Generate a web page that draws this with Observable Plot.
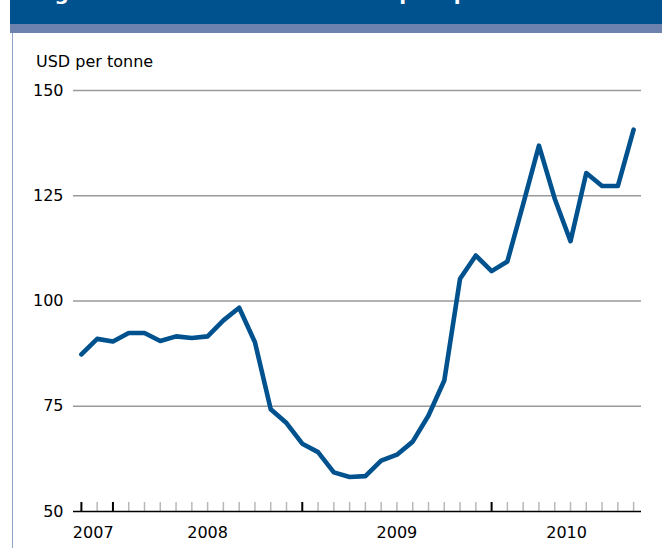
<!DOCTYPE html>
<html><head><meta charset="utf-8">
<script src="https://cdn.jsdelivr.net/npm/d3@7"></script>
<script src="https://cdn.jsdelivr.net/npm/@observablehq/plot@0.6"></script>
<style>
html,body{margin:0;padding:0;background:#fff;}
#wrap{position:relative;width:662px;height:548px;overflow:hidden;font-family:"DejaVu Sans",sans-serif;}
#chart{position:absolute;left:0;top:0;}
#head{position:absolute;left:10px;top:0;width:652px;height:24px;background:#00528e;overflow:hidden;}
#title{position:absolute;left:24px;top:-17px;font-size:20px;line-height:20px;font-weight:bold;color:#fff;white-space:nowrap;}
#strip{position:absolute;left:10px;top:24px;width:652px;height:9px;background:#6e82b0;}
#border{position:absolute;left:12px;top:33px;width:1px;height:515px;background:#8ea4c6;}
#unit{position:absolute;left:36px;top:53.5px;font-size:16px;line-height:16px;color:#000;}
</style></head><body>
<div id="wrap">
<div id="chart"></div>
<div id="head"><div id="title">Figure 2: International wheat export prices</div></div>
<div id="strip"></div>
<div id="border"></div>
<div id="unit">USD per tonne</div>
</div>
<script>
// Monthly series, November 2007 to October 2010
const firstMonth = [2007, 10]; // year, zero-based month (November)
const prices = [
  87.3, 91.0, 90.4, 92.4, 92.4, 90.5, 91.6, 91.2, 91.6, 95.4, 98.4, 90.2,
  74.3, 71.0, 66.1, 64.1, 59.3, 58.2, 58.4, 62.1, 63.5, 66.6, 72.8, 81.1,
  105.3, 110.8, 107.1, 109.4, 123.0, 136.9, 124.3, 114.2, 130.4, 127.3, 127.3, 140.7
];
const yTicks = [50, 75, 100, 125, 150];
const yearLabels = ["2007", "2008", "2009", "2010"];

const data = prices.map((v, i) => ({
  i,
  date: new Date(Date.UTC(firstMonth[0], firstMonth[1] + i, 1)),
  value: v
}));
const monthTicks = data.map(d => ({i: d.i, major: d.i === 0 || d.date.getUTCMonth() === 0}));
const yearSpans = yearLabels.map(y => {
  const rows = data.filter(d => d.date.getUTCFullYear() === +y);
  const a = rows[0], b = rows[rows.length - 1];
  const start = a.date.getUTCMonth() === 0 ? a.i : a.i - 0.5;
  const end = b.date.getUTCMonth() === 11 ? b.i + 1 : b.i + 0.5;
  return {label: y, x: (start + end) / 2};
});

const chart = Plot.plot({
  width: 662,
  height: 548,
  marginLeft: 73,
  marginRight: 21,
  marginTop: 90,
  marginBottom: 37,
  style: {fontFamily: "DejaVu Sans, sans-serif", fontSize: "16px", background: "transparent", color: "#000"},
  x: {domain: [-0.5, data.length - 0.5], axis: null, label: null},
  y: {domain: [50, 150], axis: null, label: null},
  marks: [
    Plot.ruleY(yTicks.filter(v => v > 50), {stroke: "#9a9a9a", strokeWidth: 1.3}),
    Plot.axisY(yTicks, {tickSize: 0, tickPadding: 10, fontSize: 16, fill: "#000", label: null}),
    Plot.ruleX(monthTicks.filter(t => !t.major), {x: "i", y1: 50, y2: 50, insetTop: -9, stroke: "#b8b8b8", strokeWidth: 1.5}),
    Plot.ruleX(monthTicks.filter(t => t.major), {x: "i", y1: 50, y2: 50, insetTop: -9, stroke: "#000", strokeWidth: 2}),
    Plot.ruleY([50], {stroke: "#000", strokeWidth: 1.7}),
    Plot.line(data, {x: "i", y: "value", stroke: "#00528e", strokeWidth: 4.6, strokeLinejoin: "round", strokeLinecap: "round"}),
    Plot.text(yearSpans, {x: "x", text: "label", frameAnchor: "bottom", dy: 15, lineAnchor: "top", fontSize: 16, fill: "#000"})
  ]
});
document.getElementById("chart").appendChild(chart);
</script>
</body></html>
